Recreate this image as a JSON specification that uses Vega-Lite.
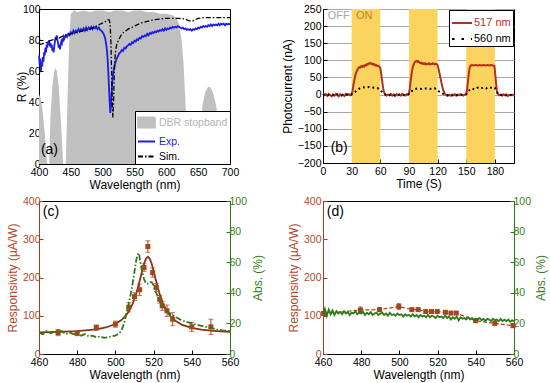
{
"$schema": "https://vega.github.io/schema/vega-lite/v6.json",
"padding": {"left": 5, "top": 3, "right": 2, "bottom": 2},
"columns": 2,
"spacing": {"row": 37, "column": 93},
"bounds": "flush",
"resolve": {"scale": {"color": "independent", "x": "independent", "y": "independent"}},
"datasets": {
"stop": [{"wl":400,"R":45},{"wl":403,"R":42},{"wl":406,"R":33},{"wl":409,"R":20},{"wl":412,"R":5},{"wl":413,"R":0},{"wl":416,"R":0},{"wl":418,"R":30},{"wl":421,"R":50},{"wl":424,"R":60},{"wl":426,"R":62},{"wl":428,"R":60},{"wl":431,"R":50},{"wl":434,"R":30},{"wl":437,"R":8},{"wl":438,"R":0},{"wl":442,"R":0},{"wl":444,"R":30},{"wl":446,"R":60},{"wl":448,"R":85},{"wl":450,"R":97},{"wl":455,"R":99},{"wl":460,"R":98},{"wl":470,"R":99},{"wl":480,"R":98},{"wl":490,"R":99},{"wl":500,"R":99},{"wl":510,"R":98},{"wl":520,"R":99},{"wl":530,"R":99},{"wl":540,"R":98},{"wl":550,"R":99},{"wl":560,"R":99},{"wl":570,"R":98},{"wl":580,"R":98},{"wl":590,"R":97},{"wl":600,"R":97},{"wl":610,"R":96},{"wl":616,"R":94},{"wl":620,"R":90},{"wl":624,"R":80},{"wl":627,"R":65},{"wl":630,"R":40},{"wl":632,"R":20},{"wl":634,"R":0},{"wl":648,"R":0},{"wl":650,"R":5},{"wl":653,"R":25},{"wl":657,"R":38},{"wl":661,"R":46},{"wl":665,"R":49.5},{"wl":667,"R":50},{"wl":670,"R":49},{"wl":674,"R":45},{"wl":678,"R":38},{"wl":682,"R":28},{"wl":686,"R":15},{"wl":690,"R":3},{"wl":691,"R":0},{"wl":700,"R":0}],
"exp": [{"wl":400,"R":70},{"wl":401,"R":64},{"wl":402,"R":68},{"wl":403,"R":60},{"wl":404,"R":66},{"wl":405,"R":63},{"wl":406,"R":69},{"wl":407,"R":66},{"wl":408,"R":72},{"wl":409,"R":70},{"wl":410,"R":75},{"wl":411,"R":72},{"wl":412,"R":77},{"wl":413,"R":75},{"wl":414,"R":79},{"wl":415,"R":77},{"wl":416,"R":80},{"wl":417,"R":76},{"wl":418,"R":78},{"wl":419,"R":75},{"wl":420,"R":77},{"wl":421,"R":73},{"wl":422,"R":75},{"wl":423,"R":72},{"wl":424,"R":76},{"wl":425,"R":79},{"wl":426,"R":82},{"wl":427,"R":80},{"wl":428,"R":83},{"wl":429,"R":80},{"wl":430,"R":78},{"wl":431,"R":75},{"wl":432,"R":77},{"wl":433,"R":74},{"wl":434,"R":77},{"wl":435,"R":79},{"wl":436,"R":78},{"wl":437,"R":81},{"wl":438,"R":79},{"wl":439,"R":82},{"wl":440,"R":81},{"wl":442,"R":83},{"wl":444,"R":82},{"wl":446,"R":84},{"wl":448,"R":83},{"wl":450,"R":85},{"wl":452,"R":84},{"wl":454,"R":86},{"wl":456,"R":84.5},{"wl":458,"R":86},{"wl":460,"R":85},{"wl":462,"R":87},{"wl":464,"R":85.5},{"wl":466,"R":87},{"wl":468,"R":86},{"wl":470,"R":87.5},{"wl":472,"R":86},{"wl":474,"R":88},{"wl":476,"R":86.5},{"wl":478,"R":88},{"wl":480,"R":87},{"wl":482,"R":88.5},{"wl":484,"R":87},{"wl":486,"R":88.5},{"wl":488,"R":87.5},{"wl":490,"R":88.5},{"wl":492,"R":87},{"wl":494,"R":88},{"wl":496,"R":86.5},{"wl":498,"R":86},{"wl":500,"R":85},{"wl":502,"R":83.5},{"wl":504,"R":81},{"wl":506,"R":76},{"wl":507,"R":72},{"wl":508,"R":66},{"wl":509,"R":58},{"wl":510,"R":49},{"wl":511,"R":40},{"wl":512,"R":33},{"wl":513,"R":37},{"wl":514,"R":45},{"wl":515,"R":52},{"wl":516,"R":57},{"wl":517,"R":60},{"wl":518,"R":62.5},{"wl":520,"R":65.5},{"wl":522,"R":68},{"wl":524,"R":69.5},{"wl":526,"R":71.5},{"wl":528,"R":72},{"wl":530,"R":73.5},{"wl":532,"R":73},{"wl":534,"R":75},{"wl":536,"R":74.5},{"wl":538,"R":76},{"wl":540,"R":76.5},{"wl":542,"R":77.5},{"wl":544,"R":77},{"wl":546,"R":78.5},{"wl":548,"R":78},{"wl":550,"R":79.5},{"wl":552,"R":79},{"wl":554,"R":80.5},{"wl":556,"R":80},{"wl":558,"R":81.5},{"wl":560,"R":81},{"wl":562,"R":82.5},{"wl":564,"R":82},{"wl":566,"R":83},{"wl":568,"R":82.5},{"wl":570,"R":84},{"wl":572,"R":83},{"wl":574,"R":84.5},{"wl":576,"R":84},{"wl":578,"R":85},{"wl":580,"R":84.5},{"wl":582,"R":85.5},{"wl":584,"R":85},{"wl":586,"R":86},{"wl":588,"R":85.5},{"wl":590,"R":86.5},{"wl":592,"R":86},{"wl":594,"R":87},{"wl":596,"R":86},{"wl":598,"R":87.5},{"wl":600,"R":86.5},{"wl":602,"R":87.5},{"wl":604,"R":87},{"wl":606,"R":88},{"wl":608,"R":87.5},{"wl":610,"R":88.5},{"wl":612,"R":88},{"wl":614,"R":88.5},{"wl":616,"R":88},{"wl":618,"R":89},{"wl":620,"R":88.5},{"wl":622,"R":88},{"wl":624,"R":87.5},{"wl":626,"R":88},{"wl":628,"R":87},{"wl":630,"R":87.5},{"wl":632,"R":86.5},{"wl":634,"R":87},{"wl":636,"R":86.5},{"wl":638,"R":87},{"wl":640,"R":86},{"wl":642,"R":87},{"wl":644,"R":86.5},{"wl":646,"R":87.5},{"wl":648,"R":87},{"wl":650,"R":88},{"wl":652,"R":87.5},{"wl":654,"R":88.5},{"wl":656,"R":88},{"wl":658,"R":89},{"wl":660,"R":88.5},{"wl":662,"R":89},{"wl":664,"R":88.5},{"wl":666,"R":89.5},{"wl":668,"R":89},{"wl":670,"R":90},{"wl":672,"R":89},{"wl":674,"R":90},{"wl":676,"R":89.5},{"wl":678,"R":90},{"wl":680,"R":89.5},{"wl":682,"R":90.5},{"wl":684,"R":89.5},{"wl":686,"R":90.5},{"wl":688,"R":90},{"wl":690,"R":90.5},{"wl":692,"R":89.5},{"wl":694,"R":90.5},{"wl":696,"R":90},{"wl":698,"R":90.5},{"wl":700,"R":90}],
"sim": [{"wl":400,"R":77},{"wl":410,"R":78},{"wl":420,"R":80},{"wl":430,"R":81},{"wl":440,"R":83},{"wl":450,"R":84},{"wl":460,"R":85},{"wl":470,"R":86},{"wl":480,"R":87},{"wl":490,"R":89},{"wl":500,"R":91},{"wl":505,"R":92},{"wl":508,"R":93},{"wl":510,"R":93},{"wl":511,"R":92},{"wl":512,"R":88},{"wl":513,"R":78},{"wl":514,"R":60},{"wl":515,"R":40},{"wl":516,"R":30},{"wl":517,"R":38},{"wl":518,"R":55},{"wl":519,"R":66},{"wl":520,"R":72},{"wl":522,"R":77},{"wl":525,"R":80},{"wl":530,"R":84},{"wl":540,"R":87},{"wl":550,"R":89},{"wl":560,"R":91},{"wl":570,"R":92},{"wl":580,"R":93},{"wl":590,"R":93.5},{"wl":600,"R":94},{"wl":620,"R":94},{"wl":630,"R":93.5},{"wl":635,"R":92.5},{"wl":640,"R":92},{"wl":645,"R":93},{"wl":650,"R":94},{"wl":660,"R":94.5},{"wl":700,"R":94.5}],
"on": [{"t0":30,"t1":60},{"t0":90,"t1":120},{"t0":150,"t1":180}],
"i517": [{"t":0,"I":3},{"t":1.5,"I":-2},{"t":3,"I":1},{"t":4.5,"I":-4},{"t":6,"I":2},{"t":7.5,"I":-1},{"t":9,"I":-5},{"t":10.5,"I":0},{"t":12,"I":-3},{"t":13.5,"I":2},{"t":15,"I":-2},{"t":16.5,"I":-5},{"t":18,"I":1},{"t":19.5,"I":-3},{"t":21,"I":0},{"t":22.5,"I":-4},{"t":24,"I":2},{"t":25.5,"I":-1},{"t":27,"I":1},{"t":28.5,"I":-2},{"t":30,"I":0},{"t":31,"I":12},{"t":32,"I":30},{"t":33,"I":45},{"t":34,"I":58},{"t":35,"I":66},{"t":36,"I":72},{"t":37,"I":77},{"t":38,"I":80},{"t":39,"I":79},{"t":40,"I":83},{"t":41,"I":81},{"t":42,"I":84},{"t":43,"I":82},{"t":44,"I":86},{"t":45,"I":85},{"t":46,"I":89},{"t":47,"I":88},{"t":48,"I":91},{"t":49,"I":90},{"t":50,"I":92},{"t":51,"I":89},{"t":52,"I":90},{"t":53,"I":87},{"t":54,"I":88},{"t":55,"I":85},{"t":56,"I":86},{"t":57,"I":83},{"t":58,"I":84},{"t":59,"I":82},{"t":60,"I":78},{"t":61,"I":60},{"t":62,"I":38},{"t":63,"I":18},{"t":64,"I":6},{"t":65,"I":1},{"t":66.5,"I":-3},{"t":68,"I":0},{"t":69.5,"I":-2},{"t":71,"I":2},{"t":72.5,"I":-3},{"t":74,"I":0},{"t":75.5,"I":-4},{"t":77,"I":1},{"t":78.5,"I":-2},{"t":80,"I":0},{"t":81.5,"I":-3},{"t":83,"I":2},{"t":84.5,"I":-1},{"t":86,"I":-3},{"t":87.5,"I":1},{"t":89,"I":-1},{"t":90,"I":2},{"t":91,"I":20},{"t":92,"I":45},{"t":93,"I":65},{"t":94,"I":80},{"t":95,"I":88},{"t":96,"I":94},{"t":97,"I":97},{"t":98,"I":98},{"t":99,"I":95},{"t":100,"I":97},{"t":101,"I":94},{"t":102,"I":92},{"t":103,"I":93},{"t":104,"I":90},{"t":105,"I":91},{"t":106,"I":89},{"t":107,"I":91},{"t":108,"I":88},{"t":109,"I":90},{"t":110,"I":89},{"t":111,"I":91},{"t":112,"I":88},{"t":113,"I":90},{"t":114,"I":89},{"t":115,"I":91},{"t":116,"I":90},{"t":117,"I":88},{"t":118,"I":90},{"t":119,"I":89},{"t":120,"I":86},{"t":121,"I":75},{"t":122,"I":62},{"t":123,"I":48},{"t":124,"I":35},{"t":125,"I":22},{"t":126,"I":12},{"t":127,"I":5},{"t":128,"I":1},{"t":129,"I":-2},{"t":130.5,"I":-4},{"t":132,"I":-1},{"t":133.5,"I":-3},{"t":135,"I":0},{"t":136.5,"I":-2},{"t":138,"I":1},{"t":139.5,"I":-3},{"t":141,"I":0},{"t":142.5,"I":-2},{"t":144,"I":1},{"t":145.5,"I":-1},{"t":147,"I":-3},{"t":148.5,"I":0},{"t":150,"I":1},{"t":151,"I":18},{"t":152,"I":45},{"t":153,"I":70},{"t":154,"I":82},{"t":155,"I":85},{"t":156,"I":86},{"t":158,"I":85},{"t":160,"I":86},{"t":162,"I":85},{"t":164,"I":86},{"t":166,"I":85},{"t":168,"I":86},{"t":170,"I":85},{"t":172,"I":86},{"t":174,"I":85},{"t":176,"I":86},{"t":178,"I":85},{"t":179.5,"I":84},{"t":180,"I":70},{"t":181,"I":40},{"t":182,"I":12},{"t":183,"I":2},{"t":184.5,"I":-2},{"t":186,"I":0},{"t":187.5,"I":-3},{"t":189,"I":1},{"t":190.5,"I":-2},{"t":192,"I":0},{"t":193.5,"I":-4},{"t":195,"I":-1},{"t":196.5,"I":-2},{"t":198,"I":0},{"t":200,"I":-3}],
"i560": [{"t":0,"I":-1},{"t":3,"I":1},{"t":6,"I":-2},{"t":9,"I":0},{"t":12,"I":-3},{"t":15,"I":1},{"t":18,"I":-1},{"t":21,"I":-2},{"t":24,"I":0},{"t":27,"I":-1},{"t":30,"I":1},{"t":33,"I":6},{"t":36,"I":14},{"t":39,"I":19},{"t":42,"I":21},{"t":45,"I":20},{"t":48,"I":22},{"t":51,"I":21},{"t":54,"I":20},{"t":57,"I":19},{"t":60,"I":14},{"t":63,"I":3},{"t":66,"I":-1},{"t":69,"I":-2},{"t":72,"I":0},{"t":75,"I":-2},{"t":78,"I":1},{"t":81,"I":-1},{"t":84,"I":-2},{"t":87,"I":0},{"t":90,"I":2},{"t":93,"I":10},{"t":96,"I":16},{"t":99,"I":18},{"t":102,"I":17},{"t":105,"I":16},{"t":108,"I":18},{"t":111,"I":17},{"t":114,"I":16},{"t":117,"I":18},{"t":120,"I":12},{"t":123,"I":6},{"t":126,"I":2},{"t":129,"I":-2},{"t":132,"I":-1},{"t":135,"I":-3},{"t":138,"I":0},{"t":141,"I":-2},{"t":144,"I":-1},{"t":147,"I":0},{"t":150,"I":1},{"t":153,"I":12},{"t":156,"I":18},{"t":159,"I":15},{"t":162,"I":20},{"t":165,"I":17},{"t":168,"I":21},{"t":171,"I":18},{"t":174,"I":22},{"t":177,"I":19},{"t":180,"I":20},{"t":183,"I":3},{"t":186,"I":-1},{"t":189,"I":0},{"t":192,"I":-2},{"t":195,"I":-1},{"t":198,"I":-2}],
"cfit": [{"wl":460,"resp":56.4},{"wl":470,"resp":57.6},{"wl":480,"resp":59.7},{"wl":490,"resp":64.4},{"wl":495,"resp":69.3},{"wl":500,"resp":78.3},{"wl":503,"resp":87.9},{"wl":505,"resp":97.5},{"wl":507,"resp":111.1},{"wl":509,"resp":130.9},{"wl":511,"resp":159.3},{"wl":513,"resp":196.9},{"wl":514,"resp":217.3},{"wl":515,"resp":235.8},{"wl":516,"resp":249.1},{"wl":517,"resp":254},{"wl":518,"resp":249.1},{"wl":519,"resp":235.8},{"wl":520,"resp":217.3},{"wl":521,"resp":196.9},{"wl":523,"resp":159.3},{"wl":525,"resp":130.9},{"wl":527,"resp":111.1},{"wl":529,"resp":97.5},{"wl":531,"resp":87.9},{"wl":535,"resp":76},{"wl":540,"resp":68.1},{"wl":545,"resp":63.7},{"wl":550,"resp":61.1},{"wl":555,"resp":59.4},{"wl":560,"resp":58.2}],
"cpts": [{"wl":470,"resp":56,"lo":48,"hi":64},{"wl":480,"resp":54,"lo":48,"hi":60},{"wl":490,"resp":69,"lo":62,"hi":76},{"wl":500,"resp":78,"lo":70,"hi":86},{"wl":507,"resp":122,"lo":110,"hi":134},{"wl":510,"resp":150,"lo":140,"hi":160},{"wl":512.7,"resp":168,"lo":153,"hi":183},{"wl":515,"resp":226,"lo":216,"hi":236},{"wl":517,"resp":281,"lo":266,"hi":296},{"wl":519.5,"resp":213,"lo":201,"hi":225},{"wl":521.3,"resp":174,"lo":164,"hi":184},{"wl":523.2,"resp":143,"lo":133,"hi":153},{"wl":524.5,"resp":126,"lo":114,"hi":138},{"wl":527,"resp":113,"lo":98,"hi":128},{"wl":530,"resp":91,"lo":74,"hi":108},{"wl":540,"resp":71,"lo":59,"hi":83},{"wl":550,"resp":71,"lo":51,"hi":91}],
"cabs": [{"wl":460,"a":14},{"wl":462,"a":13},{"wl":464,"a":15},{"wl":466,"a":13.5},{"wl":468,"a":14.5},{"wl":470,"a":14},{"wl":472,"a":15},{"wl":474,"a":13},{"wl":476,"a":14},{"wl":478,"a":13},{"wl":480,"a":13.5},{"wl":482,"a":12},{"wl":484,"a":13},{"wl":486,"a":11.5},{"wl":488,"a":12},{"wl":490,"a":11},{"wl":492,"a":11.5},{"wl":494,"a":10.5},{"wl":496,"a":11},{"wl":498,"a":11.5},{"wl":500,"a":12},{"wl":502,"a":13.5},{"wl":503,"a":15},{"wl":504,"a":18},{"wl":505,"a":22},{"wl":506,"a":28},{"wl":507,"a":33},{"wl":508,"a":39},{"wl":509,"a":46},{"wl":510,"a":54},{"wl":511,"a":62},{"wl":512,"a":66},{"wl":512.5,"a":65},{"wl":513,"a":60},{"wl":514,"a":54},{"wl":515,"a":49},{"wl":516,"a":46},{"wl":517,"a":46},{"wl":518,"a":47},{"wl":519,"a":47},{"wl":520,"a":45},{"wl":521,"a":41},{"wl":522,"a":38},{"wl":523,"a":35},{"wl":524,"a":33},{"wl":525,"a":31},{"wl":527,"a":28},{"wl":529,"a":26},{"wl":531,"a":24.5},{"wl":534,"a":22.5},{"wl":537,"a":21},{"wl":540,"a":20},{"wl":543,"a":19},{"wl":546,"a":18},{"wl":550,"a":17},{"wl":553,"a":16},{"wl":556,"a":15.5},{"wl":560,"a":15}],
"dpts": [{"wl":460.3,"resp":106,"lo":102,"hi":110},{"wl":479.6,"resp":115,"lo":107,"hi":123},{"wl":489.6,"resp":116,"lo":111,"hi":121},{"wl":499.7,"resp":124,"lo":116,"hi":132},{"wl":506.5,"resp":116,"lo":113,"hi":119},{"wl":509.8,"resp":116,"lo":113,"hi":119},{"wl":513.8,"resp":111,"lo":108,"hi":114},{"wl":516.8,"resp":111,"lo":108,"hi":114},{"wl":519.8,"resp":111,"lo":108,"hi":114},{"wl":524.1,"resp":109,"lo":106,"hi":112},{"wl":527,"resp":107,"lo":104,"hi":110},{"wl":529.8,"resp":107,"lo":104,"hi":110},{"wl":539.9,"resp":87,"lo":84,"hi":90},{"wl":550,"resp":80,"lo":77,"hi":83},{"wl":559.5,"resp":74,"lo":71,"hi":77}],
"dabs": [{"wl":460,"a":26.5},{"wl":461,"a":29.5},{"wl":462,"a":25},{"wl":463,"a":29},{"wl":464,"a":26},{"wl":465,"a":28.5},{"wl":466,"a":25.5},{"wl":467,"a":28},{"wl":468,"a":26.5},{"wl":469,"a":27.5},{"wl":470,"a":26},{"wl":471,"a":28},{"wl":472,"a":26.5},{"wl":473,"a":27.5},{"wl":474,"a":25.5},{"wl":475,"a":27},{"wl":476,"a":26.5},{"wl":477,"a":28},{"wl":478,"a":26},{"wl":479,"a":27},{"wl":480,"a":26.5},{"wl":481,"a":27.5},{"wl":482,"a":25.5},{"wl":483,"a":27},{"wl":484,"a":26},{"wl":485,"a":27.5},{"wl":486,"a":25.5},{"wl":487,"a":26.5},{"wl":488,"a":27},{"wl":489,"a":25.5},{"wl":490,"a":26.5},{"wl":491,"a":27},{"wl":492,"a":25.5},{"wl":493,"a":26.5},{"wl":494,"a":25},{"wl":495,"a":27},{"wl":496,"a":25.5},{"wl":497,"a":26},{"wl":498,"a":25},{"wl":499,"a":26.5},{"wl":500,"a":25.5},{"wl":501,"a":26},{"wl":502,"a":24.5},{"wl":503,"a":26},{"wl":504,"a":25},{"wl":505,"a":25.5},{"wl":506,"a":24.5},{"wl":507,"a":26},{"wl":508,"a":24.5},{"wl":509,"a":25.5},{"wl":510,"a":24},{"wl":511,"a":25.5},{"wl":512,"a":24.5},{"wl":513,"a":25},{"wl":514,"a":24},{"wl":515,"a":25.5},{"wl":516,"a":24},{"wl":517,"a":25},{"wl":518,"a":24.5},{"wl":519,"a":23.5},{"wl":520,"a":25},{"wl":521,"a":24},{"wl":522,"a":24.5},{"wl":523,"a":23.5},{"wl":524,"a":25},{"wl":525,"a":23.5},{"wl":526,"a":24.5},{"wl":527,"a":22.5},{"wl":528,"a":24},{"wl":529,"a":23},{"wl":530,"a":24.5},{"wl":531,"a":22},{"wl":532,"a":24},{"wl":533,"a":23},{"wl":534,"a":23.5},{"wl":535,"a":22.5},{"wl":536,"a":24},{"wl":537,"a":22.5},{"wl":538,"a":23.5},{"wl":539,"a":22},{"wl":540,"a":23},{"wl":541,"a":22.5},{"wl":542,"a":23.5},{"wl":543,"a":22},{"wl":544,"a":23},{"wl":545,"a":21.5},{"wl":546,"a":23},{"wl":547,"a":22.5},{"wl":548,"a":21.5},{"wl":549,"a":23},{"wl":550,"a":22},{"wl":551,"a":22.5},{"wl":552,"a":21.5},{"wl":553,"a":23},{"wl":554,"a":21.5},{"wl":555,"a":22.5},{"wl":556,"a":21.5},{"wl":557,"a":22.5},{"wl":558,"a":21},{"wl":559,"a":22},{"wl":560,"a":21.5}]
},
"concat": [
{
"width": 191, "height": 155,
"layer": [
{"data": {"name": "stop"}, "mark": {"type": "area", "opacity": 1},
 "encoding": {
  "x": {"field": "wl", "type": "quantitative", "scale": {"domain": [400, 700], "nice": false}, "axis": {"values": [400,450,500,550,600,650,700], "tickCount": 20, "title": "Wavelength (nm)"}},
  "y": {"field": "R", "type": "quantitative", "scale": {"domain": [0, 100], "nice": false}, "axis": {"values": [0,20,40,60,80,100], "tickCount": 20, "title": "R (%)", "titleX": -11}},
  "color": {"datum": "DBR stopband", "type": "nominal", "scale": {"domain": ["DBR stopband", "Exp.", "Sim."], "range": ["#c0c0c0", "#1e1ee6", "#000000"]},
   "legend": {"orient": "bottom-right", "offset": 0, "title": null, "fillColor": "#ffffff", "strokeColor": "#000000", "padding": 2, "rowPadding": -4, "symbolSize": 289, "labelFontSize": 10.5, "labelOffset": 3,
    "encoding": {
     "symbols": {
      "shape": {"value": {"expr": "datum.value === 'DBR stopband' ? 'M-1,-0.6H1V0.6H-1Z' : 'stroke'"}},
      "fill": {"value": {"expr": "datum.value === 'DBR stopband' ? '#c0c0c0' : 'transparent'"}},
      "stroke": {"value": {"expr": "datum.value === 'DBR stopband' ? '#c0c0c0' : datum.value === 'Exp.' ? '#1e1ee6' : '#000000'"}},
      "strokeDash": {"value": {"expr": "datum.value === 'Sim.' ? [5,2,1.5,2] : [1,0]"}},
      "strokeWidth": {"value": 1.8}},
     "labels": {"fill": {"value": {"expr": "datum.value === 'DBR stopband' ? '#b4b4b4' : datum.value === 'Exp.' ? '#1e1ee6' : '#000000'"}}}}}}
 }},
{"data": {"name": "exp"}, "mark": {"type": "line", "strokeWidth": 1.8},
 "encoding": {"x": {"field": "wl", "type": "quantitative"}, "y": {"field": "R", "type": "quantitative"}, "color": {"datum": "Exp.", "type": "nominal"}}},
{"data": {"name": "sim"}, "mark": {"type": "line", "strokeWidth": 1.3, "strokeDash": [5,2,1.5,2]},
 "encoding": {"x": {"field": "wl", "type": "quantitative"}, "y": {"field": "R", "type": "quantitative"}, "color": {"datum": "Sim.", "type": "nominal"}}},
{"data": {"values": [{"t": "(a)"}]}, "mark": {"type": "text", "fontSize": 14, "align": "left", "baseline": "middle"},
 "encoding": {"x": {"datum": 403}, "y": {"datum": 9}, "text": {"field": "t"}}}
]
},
{
"width": 191, "height": 154,
"layer": [
{"data": {"name": "on"}, "mark": {"type": "rect", "color": "#fbd35f"},
 "encoding": {"x": {"field": "t0", "type": "quantitative", "scale": {"domain": [0, 200], "nice": false}, "axis": {"values": [0,30,60,90,120,150,180], "tickCount": 20, "title": "Time (S)"}}, "x2": {"field": "t1"}}},
{"data": {"name": "i517"}, "mark": {"type": "line", "strokeWidth": 2},
 "encoding": {"x": {"field": "t", "type": "quantitative"},
  "y": {"field": "I", "type": "quantitative", "scale": {"domain": [-200, 250], "nice": false}, "axis": {"values": [-200,-150,-100,-50,0,50,100,150,200,250], "tickCount": 20, "grid": true, "gridColor": "#a8a8a8", "title": "Photocurrent (nA)", "labelPadding": 6}},
  "color": {"datum": "517 nm", "type": "nominal", "scale": {"domain": ["517 nm", "560 nm"], "range": ["#b5301a", "#000000"]},
   "legend": {"orient": "top-right", "offset": 1, "title": null, "fillColor": "#ffffff", "strokeColor": "#000000", "padding": 2, "rowPadding": -6, "symbolType": "stroke", "symbolSize": 400, "symbolStrokeWidth": 2, "labelFontSize": 11, "labelOffset": 1,
    "encoding": {
     "symbols": {"strokeDash": {"value": {"expr": "datum.value === '560 nm' ? [2.5,7] : [1,0]"}}, "stroke": {"value": {"expr": "datum.value === '560 nm' ? '#000000' : '#b5301a'"}}},
     "labels": {"fill": {"value": {"expr": "datum.value === '560 nm' ? '#000000' : '#b5301a'"}}}}}}}},
{"data": {"name": "i560"}, "mark": {"type": "line", "strokeWidth": 2, "strokeDash": [1.8, 3]},
 "encoding": {"x": {"field": "t", "type": "quantitative"}, "y": {"field": "I", "type": "quantitative"}, "color": {"datum": "560 nm", "type": "nominal"}}},
{"data": {"values": [{"t": "OFF"}]}, "mark": {"type": "text", "fontSize": 11, "align": "left", "baseline": "middle", "color": "#a8a8a8"},
 "encoding": {"x": {"datum": 5}, "y": {"datum": 230}, "text": {"field": "t"}}},
{"data": {"values": [{"t": "ON"}]}, "mark": {"type": "text", "fontSize": 11, "align": "left", "baseline": "middle", "color": "#c8802c"},
 "encoding": {"x": {"datum": 34.5}, "y": {"datum": 230}, "text": {"field": "t"}}},
{"data": {"values": [{"t": "(b)"}]}, "mark": {"type": "text", "fontSize": 14, "align": "left", "baseline": "middle"},
 "encoding": {"x": {"datum": 8}, "y": {"datum": -156}, "text": {"field": "t"}}}
]
},
{
"width": 191, "height": 153,
"resolve": {"scale": {"y": "independent"}},
"layer": [
{"layer": [
 {"data": {"name": "cfit"}, "mark": {"type": "line", "color": "#8c3214", "strokeWidth": 1.8},
  "encoding": {
   "x": {"field": "wl", "type": "quantitative", "scale": {"domain": [460, 560], "nice": false}, "axis": {"values": [460,480,500,520,540,560], "tickCount": 20, "title": "Wavelength (nm)"}},
   "y": {"field": "resp", "type": "quantitative", "scale": {"domain": [0, 400], "nice": false}, "axis": {"values": [0,100,200,300,400], "tickCount": 20, "title": "Responsivity (µA/W)", "labelColor": "#b4472e", "titleColor": "#b4472e", "domainColor": "#a0401e", "tickColor": "#a0401e"}}}},
 {"data": {"name": "cpts"}, "mark": {"type": "errorbar", "ticks": {"size": 5}},
  "encoding": {"x": {"field": "wl", "type": "quantitative"}, "y": {"field": "lo", "type": "quantitative", "title": "Responsivity (µA/W)"}, "y2": {"field": "hi"}, "color": {"value": "#a3461f"}}},
 {"data": {"name": "cpts"}, "mark": {"type": "point", "shape": "square", "filled": true, "size": 25, "color": "#a3461f", "opacity": 1},
  "encoding": {"x": {"field": "wl", "type": "quantitative"}, "y": {"field": "resp", "type": "quantitative", "title": "Responsivity (µA/W)"}}},
 {"data": {"values": [{"t": "(c)"}]}, "mark": {"type": "text", "fontSize": 14, "align": "left", "baseline": "middle"},
  "encoding": {"x": {"datum": 462}, "y": {"datum": 370}, "text": {"field": "t"}}}
]},
{"data": {"name": "cabs"}, "mark": {"type": "line", "color": "#2f7a17", "strokeWidth": 1.8, "strokeDash": [6,2,1.5,2]},
 "encoding": {"x": {"field": "wl", "type": "quantitative"},
  "y": {"field": "a", "type": "quantitative", "scale": {"domain": [0, 100], "nice": false}, "axis": {"orient": "right", "values": [0,20,40,60,80,100], "tickCount": 20, "title": "Abs. (%)", "titleAngle": 270, "titleBaseline": "top", "titlePadding": 6, "labelColor": "#3d7d22", "titleColor": "#3d7d22", "domainColor": "#2f7a17", "tickColor": "#2f7a17"}}}}
]
},
{
"width": 191, "height": 153,
"resolve": {"scale": {"y": "independent"}},
"layer": [
{"layer": [
 {"data": {"name": "dpts"}, "mark": {"type": "line", "color": "#a3461f", "strokeWidth": 1.2, "strokeDash": [4,2]},
  "encoding": {
   "x": {"field": "wl", "type": "quantitative", "scale": {"domain": [460, 560], "nice": false}, "axis": {"values": [460,480,500,520,540,560], "tickCount": 20, "title": "Wavelength (nm)"}},
   "y": {"field": "resp", "type": "quantitative", "scale": {"domain": [0, 400], "nice": false}, "axis": {"values": [0,100,200,300,400], "tickCount": 20, "title": "Responsivity (µA/W)", "labelPadding": 6, "labelColor": "#b4472e", "titleColor": "#b4472e", "domainColor": "#a0401e", "tickColor": "#a0401e"}}}},
 {"data": {"name": "dpts"}, "mark": {"type": "errorbar", "ticks": {"size": 4}},
  "encoding": {"x": {"field": "wl", "type": "quantitative"}, "y": {"field": "lo", "type": "quantitative", "title": "Responsivity (µA/W)"}, "y2": {"field": "hi"}, "color": {"value": "#a3461f"}}},
 {"data": {"name": "dpts"}, "mark": {"type": "point", "shape": "square", "filled": true, "size": 25, "color": "#a3461f", "opacity": 1},
  "encoding": {"x": {"field": "wl", "type": "quantitative"}, "y": {"field": "resp", "type": "quantitative", "title": "Responsivity (µA/W)"}}},
 {"data": {"values": [{"t": "(d)"}]}, "mark": {"type": "text", "fontSize": 14, "align": "left", "baseline": "middle"},
  "encoding": {"x": {"datum": 462}, "y": {"datum": 370}, "text": {"field": "t"}}}
]},
{"data": {"name": "dabs"}, "mark": {"type": "line", "color": "#2f7a17", "strokeWidth": 1.8},
 "encoding": {"x": {"field": "wl", "type": "quantitative"},
  "y": {"field": "a", "type": "quantitative", "scale": {"domain": [0, 100], "nice": false}, "axis": {"orient": "right", "values": [0,20,40,60,80,100], "tickCount": 20, "title": "Abs. (%)", "titleAngle": 270, "titleBaseline": "top", "titlePadding": 5, "labelColor": "#3d7d22", "titleColor": "#3d7d22", "domainColor": "#2f7a17", "tickColor": "#2f7a17"}}}}
]
}
],
"config": {
 "font": "Liberation Sans",
 "view": {"stroke": "#000000", "strokeWidth": 1},
 "axis": {"labelFont": "Liberation Sans", "titleFont": "Liberation Sans", "labelFontSize": 10.5, "titleFontSize": 12, "titleFontWeight": "normal", "tickSize": -4, "labelPadding": 3, "titlePadding": 3, "domainColor": "#000000", "tickColor": "#000000", "labelColor": "#000000", "titleColor": "#000000", "grid": false, "labelFlush": false, "labelOverlap": false},
 "axisX": {"labelPadding": 7, "titlePadding": 2},
 "legend": {"labelFont": "Liberation Sans"},
 "text": {"font": "Liberation Sans"}
}
}
